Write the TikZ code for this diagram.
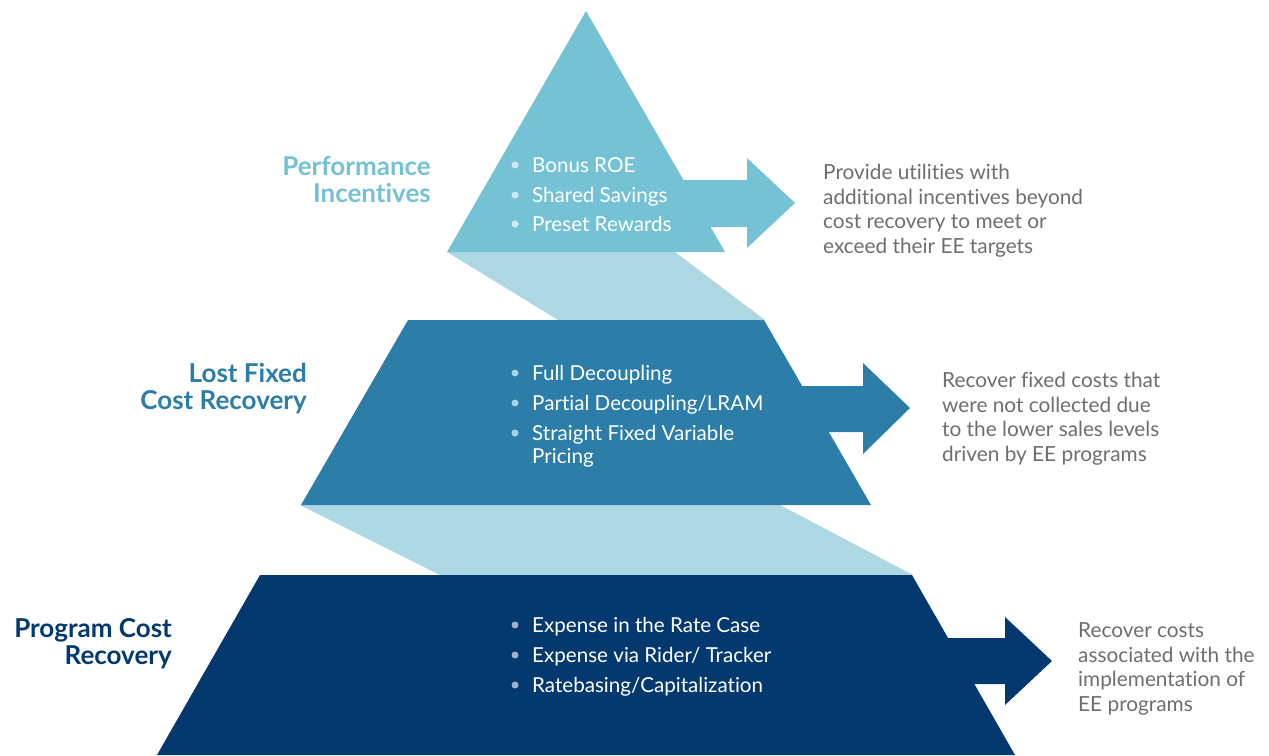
\documentclass[tikz,border=0pt]{standalone}
\usepackage{fontspec}
\setmainfont{Lato}[Ligatures={NoCommon,NoContextual,NoRare}]
\usetikzlibrary{positioning}
\definecolor{topteal}{HTML}{74C2D4}
\definecolor{bandblue}{HTML}{ADD7E3}
\definecolor{midblue}{HTML}{2C7DA8}
\definecolor{navyblue}{HTML}{03396E}
\definecolor{notegrey}{HTML}{6D6E71}
\definecolor{dotone}{HTML}{CDE8F0}
\definecolor{dottwo}{HTML}{A9CFE0}
\definecolor{dotthree}{HTML}{9FB0C8}
% keep t and i apart (no ligature)
\newcommand{\tisep}{t\kern0pt i}

\begin{document}
\begin{tikzpicture}[x=1pt,y=-1pt,
		itemtext/.style={anchor=base west, inner sep=0pt, text=white, align=left,
			font=\fontsize{20.6}{23}\selectfont},
		bulletdot/.style={circle, fill=#1, inner sep=0pt, minimum size=7pt},
		leveltitle/.style={anchor=base east, inner sep=0pt, align=right, text=#1,
			font=\bfseries\fontsize{26}{27}\selectfont},
		notetext/.style={anchor=base west, inner sep=0pt, align=left, text=notegrey,
			font=\fontsize{20.8}{24.5}\selectfont}
		]
		\useasboundingbox (0,0) rectangle (1269,755);
		
		% light bands between the levels
		\fill[bandblue] (447,252) -- (675,252) -- (765,320) -- (558,320) -- cycle;
		\fill[bandblue] (300,505) -- (780,505) -- (913,575) -- (440,575) -- cycle;
		
		% levels with their arrows
		\fill[topteal] (586,11) -- (725,252) -- (447,252) -- cycle;
		\fill[topteal] (660,180) -- (747,180) -- (747,158) -- (795,203) -- (747,248)
		-- (747,227) -- (660,227) -- cycle;
		\fill[midblue] (408,320) -- (764,320) -- (871,505) -- (301,505) -- cycle;
		\fill[midblue] (780,386) -- (863,386) -- (863,363) -- (910,408) -- (863,454)
		-- (863,432) -- (780,432) -- cycle;
		\fill[navyblue] (260,575) -- (912,575) -- (1015,755) -- (157,755) -- cycle;
		\fill[navyblue] (930,638) -- (1005,638) -- (1005,617) -- (1052,661) -- (1005,705)
		-- (1005,684) -- (930,684) -- cycle;
		
		% titles (base = last line)
		\node[leveltitle=topteal](T1) at (431,202){Performance\\Incen\tisep ves};
		\node[leveltitle=midblue](T2) at (307,409){Lost Fixed\\Cost Recovery};
		\node[leveltitle=navyblue](T3) at (172,664){Program Cost\\Recovery};
		
		% bullets
		\node[bulletdot=dotone](D1) at (515,165){};
		\node[itemtext](B1) at (532,172){Bonus ROE};
		\node[bulletdot=dotone](D2) at (515,195){};
		\node[itemtext](B2) at (532,202){Shared Savings};
		\node[bulletdot=dotone](D3) at (515,224){};
		\node[itemtext](B3) at (532,231){Preset Rewards};
		
		\node[bulletdot=dottwo](D4) at (515,373){};
		\node[itemtext](B4) at (532,380){Full Decoupling};
		\node[bulletdot=dottwo](D5) at (515,403){};
		\node[itemtext](B5) at (532,410){Par\tisep al Decoupling/LRAM};
		\node[bulletdot=dottwo](D6) at (515,433){};
		\node[itemtext](B6) at (532,463){Straight Fixed Variable\\Pricing};
		
		\node[bulletdot=dotthree](D7) at (515,625){};
		\node[itemtext](B7) at (532,632){Expense in the Rate Case};
		\node[bulletdot=dotthree](D8) at (515,655){};
		\node[itemtext](B8) at (532,662){Expense via Rider/ Tracker};
		\node[bulletdot=dotthree](D9) at (515,685){};
		\node[itemtext](B9) at (532,692){Ratebasing/Capitaliza\tisep on};
		
		% notes (base = last line)
		\node[notetext](N1) at (823,253){Provide u\tisep li\tisep es with\\
			addi\tisep onal incen\tisep ves beyond\\
			cost recovery to meet or\\exceed their EE targets};
		\node[notetext](N2) at (942,461){Recover fixed costs that\\were not collected due\\
			to the lower sales levels\\driven by EE programs};
		\node[notetext](N3) at (1078,711){Recover costs\\associated with the\\
			implementa\tisep on of\\EE programs};
	\end{tikzpicture}
\end{document}
